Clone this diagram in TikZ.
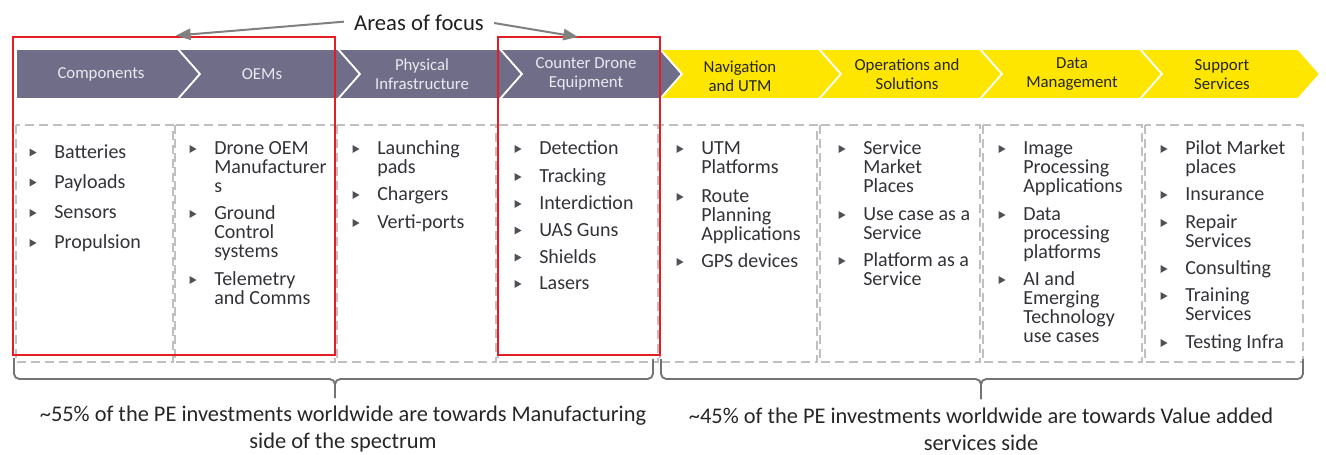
\documentclass[tikz,border=0pt]{standalone}
\usepackage{fontspec}
\setmainfont{Carlito}
\usetikzlibrary{arrows.meta}

\definecolor{chevgray}{RGB}{111,109,135}
\definecolor{eyyellow}{RGB}{255,230,0}
\definecolor{focusred}{RGB}{226,30,36}
\definecolor{dashgray}{RGB}{192,192,192}
\definecolor{bodytext}{RGB}{50,50,56}
\definecolor{bracegray}{RGB}{115,115,115}
\definecolor{headlight}{RGB}{234,234,242}
\definecolor{bulletcol}{RGB}{80,80,86}

% one bullet item: name, left of text, centre of the first line, text
\newcommand\bulletitem[4]{%
  \fill[bulletcol] (#2-24.5,#3-3) -- (#2-17.5,#3+1) -- (#2-24.5,#3+5) -- cycle;
  \node[itemtext] (#1) at (#2,#3+6.5) {\parbox[t]{150pt}{\raggedright #4}};}

\begin{document}
\begin{tikzpicture}[x=0.75pt,y=-0.75pt,
  chevron/.style={draw=white,line width=1.3pt,line join=miter},
  headgray/.style={text=headlight,align=center,inner sep=0,
    font=\fontsize{12.6}{14.25}\selectfont},
  headyellow/.style={headgray,text=black!85},
  itemtext/.style={anchor=base west,inner sep=0,text=bodytext,
    font=\fontsize{15}{14.25}\selectfont},
  colbox/.style={draw=dashgray,line width=1.4pt,dash pattern=on 6.5pt off 4pt},
  focusbox/.style={draw=focusred,line width=1.5pt},
  focusarrow/.style={draw=black!50,line width=1.5pt,
    -{Triangle[length=11pt,width=8.5pt]}},
  brace/.style={draw=bracegray,line width=1.4pt,rounded corners=4pt},
  note/.style={align=center,inner sep=0,text=black!85,
    font=\fontsize{16.8}{20}\selectfont}]
\useasboundingbox (0,0) rectangle (1326,454);

% ---------- value chain chevrons ----------
\filldraw[chevron,fill=chevgray] (16,49) -- (178,49) -- (200,74) -- (178,99) -- (16,99) -- cycle;
\foreach \l/\r/\c in {178/338/chevgray,338/500/chevgray,500/660/chevgray,
    660/819/eyyellow,819/980/eyyellow,980/1140/eyyellow,1140/1298/eyyellow}
  \filldraw[chevron,fill=\c] (\l,49) -- (\r,49) -- (\r+22,74) -- (\r,99)
    -- (\l,99) -- (\l+22,74) -- cycle;

\node[headgray] (hcomp) at (101,74) {Components};
\node[headgray] (hoem) at (262,74) {OEMs};
\node[headgray] (hphys) at (422,74) {Physical\\Infrastructure};
\node[headgray] (hcounter) at (586,74) {Counter Drone\\Equipment};
\node[headyellow] (hnav) at (740,76) {Navigation\\and UTM};
\node[headyellow] (hops) at (907,74) {Operations and\\Solutions};
\node[headyellow] (hdata) at (1072,74) {Data\\Management};
\node[headyellow] (hsupport) at (1222,75) {Support\\Services};

% ---------- dashed columns ----------
\foreach \l/\r in {16/173,175/335,337/496,498/658,660/817,820/980,983/1142,1145/1303}
  \draw[colbox] (\l,125) rectangle (\r,362);

% ---------- items ----------
\bulletitem{c1a}{54}{151.5}{Batteries}
\bulletitem{c1b}{54}{181.5}{Payloads}
\bulletitem{c1c}{54}{212}{Sensors}
\bulletitem{c1d}{54}{242}{Propulsion}

\bulletitem{c2a}{214}{148}{Drone OEM\\Manufacturer\\s}
\bulletitem{c2b}{214}{213}{Ground\\Control\\systems}
\bulletitem{c2c}{214}{279}{Telemetry\\and Comms}

\bulletitem{c3a}{377}{148}{Launching\\pads}
\bulletitem{c3b}{377}{194}{Chargers}
\bulletitem{c3c}{377}{222}{Verti-ports}

\bulletitem{c4a}{539}{148}{Detection}
\bulletitem{c4b}{539}{176}{Tracking}
\bulletitem{c4c}{539}{203}{Interdiction}
\bulletitem{c4d}{539}{229.5}{UAS Guns}
\bulletitem{c4e}{539}{256.5}{Shields}
\bulletitem{c4f}{539}{283}{Lasers}

\bulletitem{c5a}{701}{148}{UTM\\Platforms}
\bulletitem{c5b}{701}{196}{Route\\Planning\\Applications}
\bulletitem{c5c}{701}{261}{GPS devices}

\bulletitem{c6a}{863}{148}{Service\\Market\\Places}
\bulletitem{c6b}{863}{214}{Use case as a\\Service}
\bulletitem{c6c}{863}{260}{Platform as a\\Service}

\bulletitem{c7a}{1023}{148}{Image\\Processing\\Applications}
\bulletitem{c7b}{1023}{214}{Data\\processing\\platforms}
\bulletitem{c7c}{1023}{279}{AI and\\Emerging\\Technology\\use cases}

\bulletitem{c8a}{1185}{148}{Pilot Market\\places}
\bulletitem{c8b}{1185}{194}{Insurance}
\bulletitem{c8c}{1185}{222}{Repair\\Services}
\bulletitem{c8d}{1185}{268}{Consulting}
\bulletitem{c8e}{1185}{295}{Training\\Services}
\bulletitem{c8f}{1185}{342}{Testing Infra}

% ---------- areas of focus ----------
\draw[focusbox] (13,37) rectangle (335,355);
\draw[focusbox] (498,37) rectangle (660,355);
\node[inner sep=0,text=black!88,font=\fontsize{17}{20}\selectfont] (focus) at (419,23) {Areas of focus};
\coordinate (tipL) at (176,35.5);
\coordinate (tipR) at (578,37);
\draw[focusarrow] ([xshift=-7.5pt,yshift=1pt]focus.west) -- (tipL);
\draw[focusarrow] ([xshift=7.5pt,yshift=0pt]focus.east) -- (tipR);

% ---------- braces and notes ----------
\coordinate (bl1) at (14,358);  \coordinate (bl2) at (653,359);
\coordinate (br1) at (661,359); \coordinate (br2) at (1303,359);
\draw[brace] (bl1) -- (14,379) -- (335,379) -- (335,398);
\draw[brace] (bl2) -- (653,379) -- (335,379) -- (335,398);
\draw[brace] (br1) -- (661,379) -- (981,379) -- (981,399);
\draw[brace] (br2) -- (1303,379) -- (981,379) -- (981,399);

\node[note] (noteL) at (343,429) {\textasciitilde55\% of the PE investments worldwide are towards Manufacturing\\side of the spectrum};
\node[note] (noteR) at (981,429) {\textasciitilde45\% of the PE investments worldwide are towards Value added\\services side};
\end{tikzpicture}
\end{document}
